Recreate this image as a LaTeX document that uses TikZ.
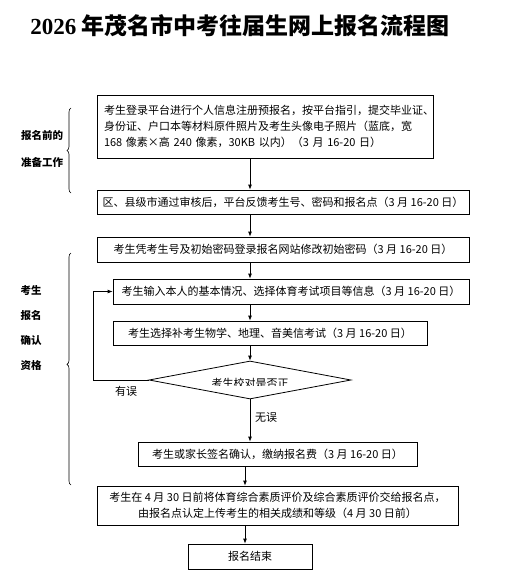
\documentclass[tikz,border=0pt]{standalone}
\usepackage{fontspec}
\setmainfont{Noto Sans CJK SC}
\newfontfamily\titlefont{Liberation Serif}
\usetikzlibrary{arrows.meta,shapes.geometric,decorations.pathreplacing}

\begin{document}
\begin{tikzpicture}[x=1pt, y=-1pt, line width=0.8pt, >={Latex[length=5pt,width=4pt]},
  every node/.style={font=\fontsize{11}{16}\selectfont},
  box/.style={draw,inner sep=0pt,align=center},
  side/.style={font=\fontsize{10.5}{25}\selectfont\bfseries,align=center},
  brc/.style={decorate,decoration={brace,amplitude=4pt,aspect=#1},line width=0.6pt}]
  \useasboundingbox[fill=white] (0,0) rectangle (507,580);
  \node[font=\fontsize{23}{23}\selectfont\bfseries] (title) at (240,26) {{\titlefont 2026} 年茂名市中考往届生网上报名流程图};
  % main flow
  \node[box,align=left,text width=322pt,inner xsep=7pt,minimum height=63pt] (reg) at (265,126.5)
    {考生登录平台进行个人信息注册预报名，按平台指引，提交毕业证、\\身份证、户口本等材料原件照片及考生头像电子照片（蓝底，宽\\168 像素×高 240 像素，30KB 以内）（3 月 16-20 日）};
  \node[box,minimum width=372pt,minimum height=24pt] (audit) at (283,202) {区、县级市通过审核后，平台反馈考生号、密码和报名点（3 月 16-20 日）};
  \node[box,minimum width=372pt,minimum height=25pt] (pwd) at (283,249.5) {考生凭考生号及初始密码登录报名网站修改初始密码（3 月 16-20 日）};
  \node[box,minimum width=356pt,minimum height=25pt] (info) at (291,291.5) {考生输入本人的基本情况、选择体育考试项目等信息（3 月 16-20 日）};
  \node[box,minimum width=314pt,minimum height=24pt] (subj) at (270,333) {考生选择补考生物学、地理、音美信考试（3 月 16-20 日）};
  \node[draw,diamond,inner sep=0pt,minimum width=202pt,minimum height=38pt] (chk) at (250,380) {};
  \begin{scope}
    \clip (190,370) rectangle (310,385.5);
    \node (chktxt) at (250,383.5) {考生校对是否正};
  \end{scope}
  \node[box,minimum width=279pt,minimum height=24pt] (sign) at (277.5,454) {考生或家长签名确认，缴纳报名费（3 月 16-20 日）};
  \node[box,minimum width=361pt,minimum height=39pt] (eval) at (277.5,505.5)
    {考生在 4 月 30 日前将体育综合素质评价及综合素质评价交给报名点，\\由报名点认定上传考生的相关成绩和等级（4 月 30 日前）};
  \node[box,minimum width=124pt,minimum height=25pt] (done) at (250,556.5) {报名结束};
  \coordinate (ax) at (245,0);
  \coordinate (lp) at (93,0);
  \draw[->] (reg.south -| chk) -- (audit.north -| chk);
  \draw[->] (audit.south -| chk) -- (pwd.north -| chk);
  \draw[->] (pwd.south -| chk) -- (info.north -| chk);
  \draw[->] (info.south -| chk) -- (subj.north -| chk);
  \draw[->] (subj.south -| chk) -- (chk.north);
  \draw[->] (chk.south) -- (sign.north -| chk);
  \draw[->] (chk.west) -- (chk.west -| lp) |- (info.west);
  \draw[->] (sign.south -| ax) -- (eval.north -| ax);
  \draw[->] (eval.south -| ax) -- (done.north -| ax);
  \node (err) at (126,391) {有误};
  \node (ok) at (266,417) {无误};
  % stage labels
  \node[side,font=\fontsize{10.5}{27}\selectfont\bfseries] (prep) at (42,148.5) {报名前的\\准备工作};
  \node[side] (conf) at (31,328) {考生\\报名\\确认\\资格};
  \coordinate (b1t) at (71,108); \coordinate (b1b) at (71,193);
  \coordinate (b2t) at (71,253); \coordinate (b2b) at (71,485);
  \draw[brc=0.5] (b1b) -- (b1t);
  \draw[brc=0.52] (b2b) -- (b2t);
\end{tikzpicture}
\end{document}
